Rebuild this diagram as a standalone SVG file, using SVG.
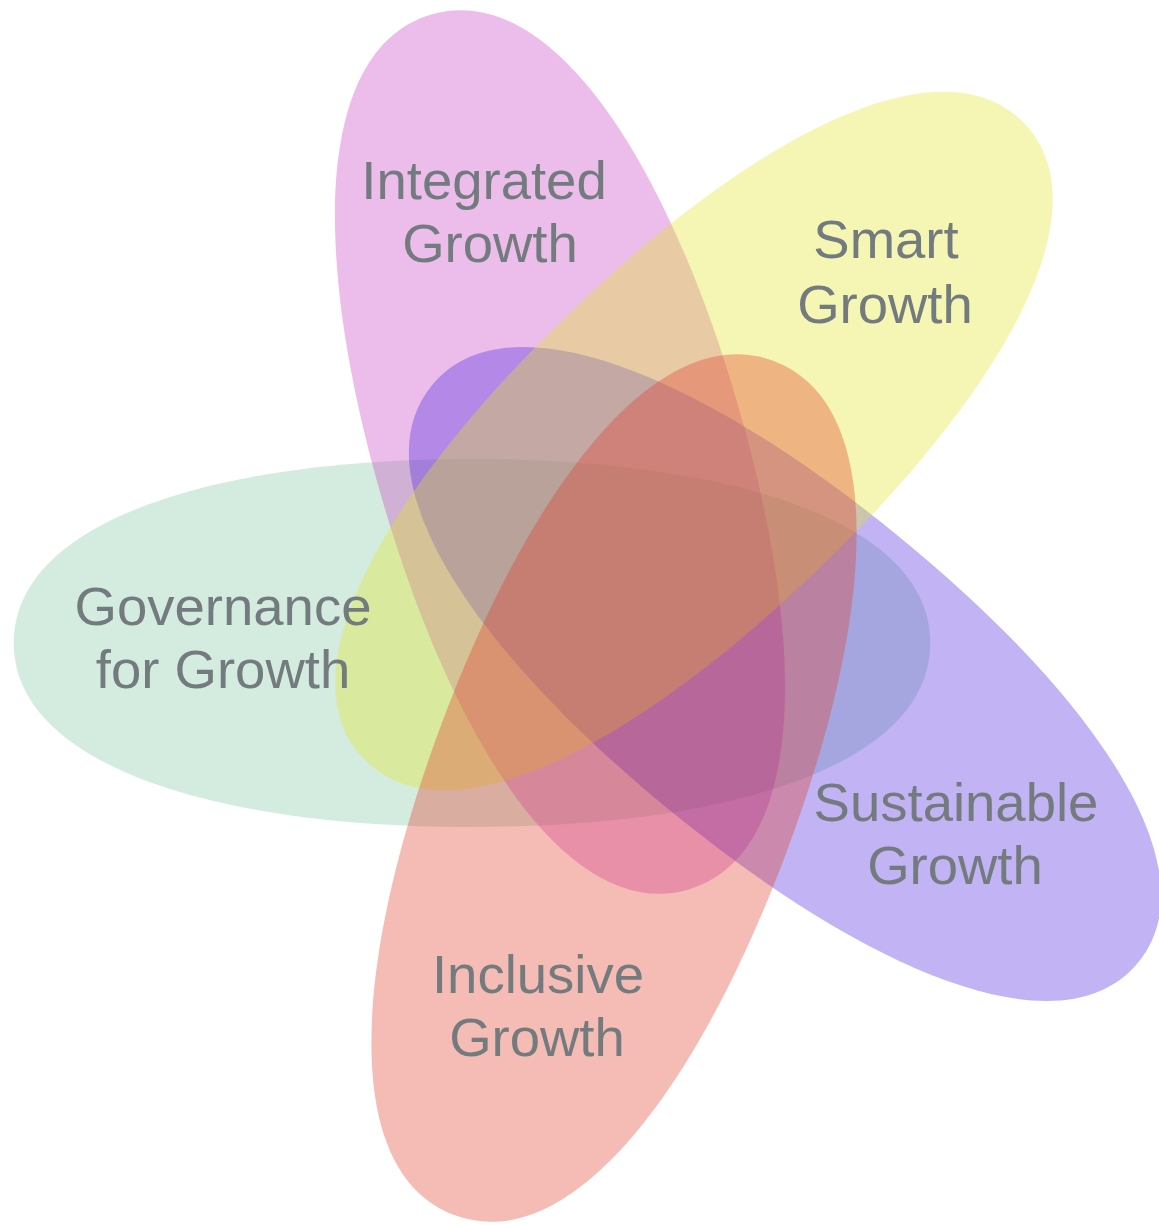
<svg xmlns="http://www.w3.org/2000/svg" xmlns:xlink="http://www.w3.org/1999/xlink" width="1159" height="1225" viewBox="0 0 1159 1225">
  <style>
    .petal { fill-opacity: 0.35; stroke: none; }
    .lbl { font-family: "Liberation Sans", Arial, sans-serif; font-size: 54.5px; fill: #737b7e; text-anchor: middle; }
  </style>
  <defs>
    <path id="petal" d="M456,0 C456,120 262,184 0,184 C-262,184 -456,120 -456,0 C-456,-120 -262,-184 0,-184 C262,-184 456,-120 456,0Z"/>
  </defs>
  <rect width="1159" height="1225" fill="#ffffff"/>
  <g id="nodes">
    <g id="node-governance">
      <use xlink:href="#petal" class="petal" fill="#84C9A4" transform="translate(472 643) scale(1.005 1.0)"/>
    </g>
    <g id="node-integrated">
      <use xlink:href="#petal" class="petal" fill="#C942C4" transform="translate(560 452) rotate(73.6)"/>
    </g>
    <g id="node-sustainable">
      <use xlink:href="#petal" class="petal" fill="#4C26E0" transform="translate(785 674) rotate(39.2) scale(1 0.97)"/>
    </g>
    <g id="node-smart">
      <use xlink:href="#petal" class="petal" fill="#E2E526" transform="translate(694 441) rotate(-43.9) scale(1.005 0.97)"/>
    </g>
    <g id="node-inclusive">
      <use xlink:href="#petal" class="petal" fill="#E23D2C" transform="translate(614 788) rotate(-69.5)"/>
    </g>
  </g>
  <g id="connectors"></g>
  <g id="labels">
    <text id="label-integrated" class="lbl"><tspan x="484" y="199">Integrated</tspan><tspan x="490" y="262">Growth</tspan></text>
    <text id="label-smart" class="lbl"><tspan x="886" y="258">Smart</tspan><tspan x="885" y="323">Growth</tspan></text>
    <text id="label-governance" class="lbl"><tspan x="223" y="625">Governance</tspan><tspan x="223" y="688">for Growth</tspan></text>
    <text id="label-sustainable" class="lbl"><tspan x="956" y="821">Sustainable</tspan><tspan x="955" y="884">Growth</tspan></text>
    <text id="label-inclusive" class="lbl"><tspan x="538" y="993">Inclusive</tspan><tspan x="537" y="1056">Growth</tspan></text>
  </g>
</svg>
